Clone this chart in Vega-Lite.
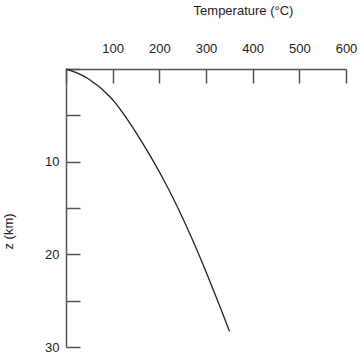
{
  "$schema": "https://vega.github.io/schema/vega-lite/v6.json",
  "width": 280,
  "height": 278,
  "autosize": {"type": "none"},
  "padding": {"left": 66, "top": 69, "right": 14, "bottom": 7},
  "background": "white",
  "config": {
    "view": {"stroke": null},
    "font": "Liberation Sans",
    "axis": {
      "labelFont": "Liberation Sans",
      "titleFont": "Liberation Sans",
      "labelFontSize": 13,
      "titleFontSize": 13,
      "titleFontWeight": "normal",
      "labelColor": "#222",
      "titleColor": "#222",
      "domainColor": "#555",
      "tickColor": "#555",
      "domainWidth": 1.5,
      "tickWidth": 1.5,
      "grid": false,
      "tickSize": -14,
      "labelFlush": false,
      "labelOverlap": false
    }
  },
  "data": {
    "values": [
      {"z": 0, "T": 0},
      {"z": 0.1, "T": 6},
      {"z": 0.25, "T": 14},
      {"z": 0.5, "T": 27},
      {"z": 0.75, "T": 37},
      {"z": 1, "T": 46},
      {"z": 1.5, "T": 60},
      {"z": 2, "T": 73},
      {"z": 2.5, "T": 84},
      {"z": 3, "T": 94},
      {"z": 3.5, "T": 103},
      {"z": 4, "T": 111},
      {"z": 5, "T": 125.5},
      {"z": 6, "T": 139},
      {"z": 7, "T": 151.8},
      {"z": 8, "T": 164.1},
      {"z": 9, "T": 176.1},
      {"z": 10, "T": 187.7},
      {"z": 11, "T": 198.9},
      {"z": 12, "T": 209.7},
      {"z": 13, "T": 220.1},
      {"z": 14, "T": 230.1},
      {"z": 15, "T": 239.8},
      {"z": 16, "T": 249.2},
      {"z": 17, "T": 258.3},
      {"z": 18, "T": 267.2},
      {"z": 19, "T": 275.9},
      {"z": 20, "T": 284.4},
      {"z": 21, "T": 292.7},
      {"z": 22, "T": 300.9},
      {"z": 23, "T": 309},
      {"z": 24, "T": 317},
      {"z": 25, "T": 324.9},
      {"z": 26, "T": 332.7},
      {"z": 27, "T": 340.4},
      {"z": 28.3, "T": 350.3}
    ]
  },
  "mark": {"type": "line", "color": "#222", "strokeWidth": 1.3, "clip": false, "interpolate": "monotone"},
  "encoding": {
    "x": {
      "field": "T",
      "type": "quantitative",
      "scale": {"domain": [0, 600], "nice": false, "zero": false},
      "axis": {
        "orient": "top",
        "title": "Temperature (°C)",
        "values": [0, 100, 200, 300, 400, 500, 600],
        "labelExpr": "datum.value > 0 ? datum.label : ''",
        "labelPadding": 28,
        "titleAnchor": "start",
        "titleAlign": "center",
        "titleX": 177,
        "titleY": -59,
        "titleBaseline": "middle"
      }
    },
    "y": {
      "field": "z",
      "type": "quantitative",
      "scale": {"domain": [0, 30], "reverse": true, "nice": false, "zero": false},
      "axis": {
        "orient": "left",
        "title": "z (km)",
        "values": [0, 5, 10, 15, 20, 25, 30],
        "labelExpr": "datum.value % 10 == 0 && datum.value > 0 ? datum.label : ''",
        "labelPadding": 21,
        "titleAngle": -90,
        "titleAlign": "center",
        "titleBaseline": "middle",
        "titleX": -58,
        "titleY": 162
      }
    },
    "order": {"field": "z", "type": "quantitative"}
  }
}
